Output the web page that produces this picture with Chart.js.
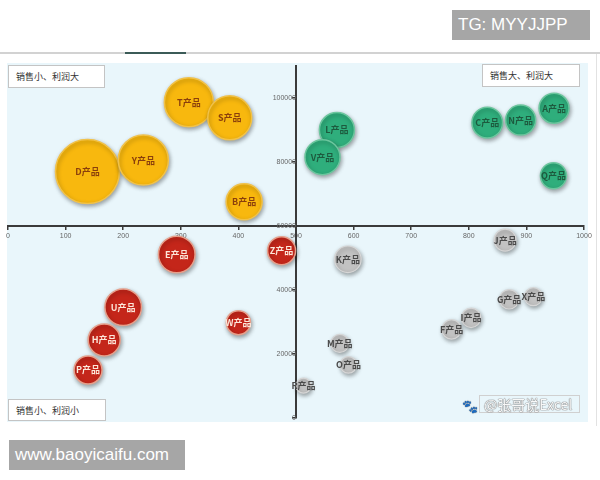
<!DOCTYPE html>
<html><head><meta charset="utf-8">
<script src="https://cdn.jsdelivr.net/npm/chart.js@4/dist/chart.umd.min.js"></script>
<style>
body{margin:0;background:#fff;width:600px;height:480px;overflow:hidden;font-family:"Noto Sans CJK SC","Noto Sans",sans-serif}
#wrap{position:relative;width:600px;height:480px}
canvas{position:absolute;left:0;top:0}
.line{position:absolute}
.qbox{position:absolute;background:#fff;border:1px solid #c4c4c4;font-size:9px;color:#333;padding-left:7px;box-sizing:border-box;display:flex;align-items:center}
.wm{position:absolute;background:#a6a6a6;color:#fff;font-family:"Liberation Sans","DejaVu Sans",sans-serif;font-size:17px;box-sizing:border-box;padding-left:6px;display:flex;align-items:center}
.sig{position:absolute;border:1px solid #d0d0d0;color:rgba(255,255,255,0.95);font-size:14px;text-shadow:0 0 1px #777,0 0 1px #777,0 0 1px #777;box-sizing:border-box;padding-left:4px;display:flex;align-items:center}
.paw{position:absolute;color:rgba(255,255,255,0.95);font-size:13px;text-shadow:0 0 1px #777,0 0 1px #777}
</style></head>
<body><div id="wrap">
<canvas id="c" width="600" height="480"></canvas>
<div class="line" style="left:0;top:52px;width:600px;height:2px;background:#d2d2d2"></div>
<div class="line" style="left:125px;top:52px;width:61px;height:2px;background:#3b5b57"></div>
<div class="line" style="left:596px;top:54px;width:1px;height:372px;background:#e2e2e2"></div>
<div class="qbox" style="left:8px;top:65px;width:97px;height:23px">销售小、利润大</div>
<div class="qbox" style="left:482px;top:64px;width:98px;height:23px">销售大、利润大</div>
<div class="qbox" style="left:8px;top:399px;width:98px;height:22px">销售小、利润小</div>
<div class="paw" style="left:462px;top:396px">🐾</div>
<div class="sig" style="left:479px;top:395px;width:101px;height:18px">@张哥说Excel</div>
<div class="wm" style="left:452px;top:10px;width:138px;height:30px">TG: MYYJJPP</div>
<div class="wm" style="left:9px;top:440px;width:176px;height:30px">www.baoyicaifu.com</div>
</div>
<script>
// 销售小、利润大 (yellow)
const yellowNames  = ['T产品','S产品','D产品','Y产品','B产品'];
const yellowSales  = [314, 385, 138, 235, 410];
const yellowProfit = [98700, 93800, 77000, 80600, 67600];
const yellowSize   = [24.5, 22, 32, 25, 18];
// 销售大、利润大 (green)
const greenNames  = ['L产品','V产品','C产品','N产品','A产品','Q产品'];
const greenSales  = [571, 546, 832, 890, 948, 947];
const greenProfit = [90000, 81500, 92300, 93100, 96800, 75700];
const greenSize   = [17.5, 17.5, 15.3, 15, 15, 13];
// 销售小、利润小 (red)
const redNames  = ['E产品','Z产品','U产品','W产品','H产品','P产品'];
const redSales  = [293, 475, 200, 400, 167, 139];
const redProfit = [51100, 52300, 34600, 29800, 24400, 15000];
const redSize   = [18.3, 14, 18.3, 12, 16, 14];
// 销售大、利润小 (grey)
const greyNames  = ['J产品','K产品','X产品','G产品','I产品','F产品','M产品','O产品','R产品'];
const greySales  = [863, 590, 912, 870, 804, 770, 576, 591, 513];
const greyProfit = [55600, 49600, 37900, 37100, 31300, 27700, 23300, 16600, 10100];
const greySize   = [11, 13.3, 9, 9.7, 9.7, 9.7, 9, 8.3, 7.5];

const xTicks = [0,100,200,300,400,500,600,700,800,900,1000];
const yTicks = [0,20000,40000,60000,80000,100000];

function pts(xs, ys, rs){ return xs.map((x,i)=>({x:x, y:ys[i], r:rs[i]})); }

const datasets = [
  {label:'销售小、利润大', names:yellowNames, data:pts(yellowSales,yellowProfit,yellowSize),
   backgroundColor:'#f8b80e', borderColor:'#f1c24a', borderWidth:1.5, textColor:'#8a3f0c'},
  {label:'销售大、利润大', names:greenNames, data:pts(greenSales,greenProfit,greenSize),
   backgroundColor:'#2fae7c', borderColor:'#6cc69e', borderWidth:1.5, textColor:'#1d5a3e'},
  {label:'销售小、利润小', names:redNames, data:pts(redSales,redProfit,redSize),
   backgroundColor:'#c4261a', borderColor:'#e6a08c', borderWidth:1.5, textColor:'#fde7da'},
  {label:'销售大、利润小', names:greyNames, data:pts(greySales,greyProfit,greySize),
   backgroundColor:'#c2c2c2', borderColor:'#d6d6d6', borderWidth:1.2, textColor:'#4a4a4a'}
];

const bgPlugin = {
  id:'bg',
  beforeDraw(chart){
    const {ctx, chartArea:a} = chart;
    ctx.save();
    ctx.fillStyle = '#e9f6fb';
    ctx.fillRect(a.left-1, a.top-3, a.right-a.left+5, a.bottom-a.top+7);
    ctx.restore();
  }
};
const shadowPlugin = {
  id:'shadow',
  beforeDatasetsDraw(chart){
    const ctx = chart.ctx;
    ctx.save();
    ctx.shadowColor = 'rgba(0,0,0,0.35)';
    ctx.shadowBlur = 4;
    ctx.shadowOffsetX = 1;
    ctx.shadowOffsetY = 2;
  },
  afterDatasetsDraw(chart){
    chart.ctx.restore();
  }
};
const labelPlugin = {
  id:'labels',
  afterDatasetsDraw(chart){
    const ctx = chart.ctx;
    ctx.save();
    ctx.textAlign = 'center';
    ctx.textBaseline = 'middle';
    ctx.font = 'bold 9px "Noto Sans CJK SC", sans-serif';
    chart.data.datasets.forEach((ds, di) => {
      const meta = chart.getDatasetMeta(di);
      ctx.fillStyle = ds.textColor;
      meta.data.forEach((el, i) => {
        ctx.fillText(ds.names[i], el.x, el.y);
      });
    });
    ctx.restore();
  }
};
function zeroPad(s){ s.paddingLeft = 0; s.paddingRight = 0; s.paddingTop = 0; s.paddingBottom = 0; }

new Chart(document.getElementById('c'), {
  type:'bubble',
  data:{datasets},
  plugins:[bgPlugin, shadowPlugin, labelPlugin],
  options:{
    responsive:false,
    animation:false,
    layout:{autoPadding:false, padding:{left:8, right:16, top:66, bottom:62}},
    plugins:{legend:{display:false}, tooltip:{enabled:false}},
    scales:{
      x:{
        type:'linear', min:0, max:1000,
        position:{y:60000},
        afterBuildTicks(s){ s.ticks = xTicks.map(v=>({value:v})); },
        afterFit: zeroPad,
        ticks:{font:{size:7, family:'"Liberation Sans", sans-serif'}, color:'#666', padding:3, maxRotation:0, autoSkip:false,
               callback:v=>String(v)},
        grid:{display:true, drawOnChartArea:false, drawTicks:true, tickLength:3, color:'#3a3a3a', lineWidth:1.5},
        border:{display:true, color:'#3a3a3a', width:2}
      },
      y:{
        type:'linear', min:0, max:110000,
        position:{x:500},
        afterBuildTicks(s){ s.ticks = yTicks.map(v=>({value:v})); },
        afterFit: zeroPad,
        ticks:{font:{size:7, family:'"Liberation Sans", sans-serif'}, color:'#666', padding:4, autoSkip:false,
               callback:v=>String(v)},
        grid:{display:true, drawOnChartArea:false, drawTicks:true, tickLength:3, color:'#3a3a3a', lineWidth:1.5},
        border:{display:true, color:'#3a3a3a', width:2}
      }
    }
  }
});
</script>
</body></html>
